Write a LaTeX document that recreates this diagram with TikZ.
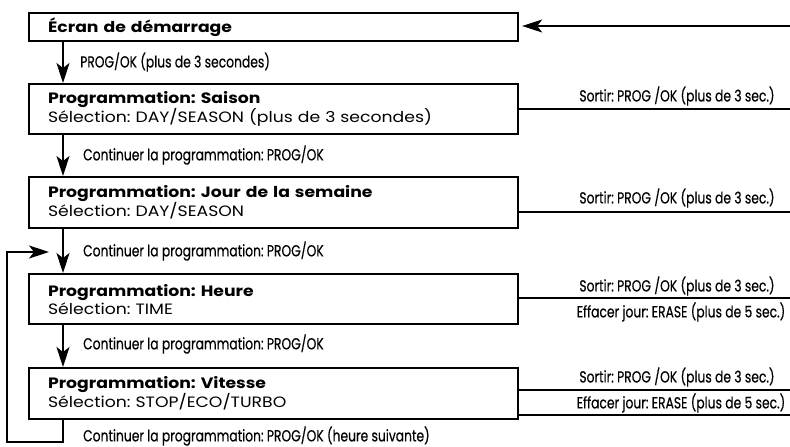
\documentclass[tikz,border=0pt]{standalone}
\usepackage{fontspec}
\usetikzlibrary{arrows.meta}
\newfontfamily\boxfont[FakeStretch=1.15]{Poppins}
\newfontfamily\lblfont[FakeStretch=0.77,FakeBold=0.4]{Poppins}
\frenchspacing
\tikzset{
  box/.style={draw=black, line width=2.2pt, anchor=north west, minimum width=489pt,
    text width=451pt, inner xsep=19pt, inner ysep=0pt, align=left,
    font=\boxfont\fontsize{15}{18}\selectfont\frenchspacing},
  lbl/.style={inner sep=0pt, font=\lblfont\fontsize{16}{18}\selectfont\frenchspacing},
  flow/.style={line width=1.1pt, -{Stealth[length=20pt,width=13pt,inset=5pt]}},
  plain/.style={line width=1.1pt}
}
\begin{document}
\begin{tikzpicture}[x=1pt,y=-1pt]
\useasboundingbox (0,0) rectangle (790,447);
\node[box, minimum height=28pt] (b1) at (28,12) {\textbf{Écran de démarrage}};
\node[box, minimum height=50pt] (b2) at (28,83) {\textbf{Programmation: Saison}\\Sélection: DAY/SEASON (plus de 3 secondes)};
\node[box, minimum height=51pt] (b3) at (28,176) {\textbf{Programmation: Jour de la semaine}\\Sélection: DAY/SEASON};
\node[box, minimum height=50pt] (b4) at (28,273) {\textbf{Programmation: Heure}\\Sélection: TIME};
\node[box, minimum height=51pt] (b5) at (28,367) {\textbf{Programmation: Vitesse}\\Sélection: STOP/ECO/TURBO};
% coordinates
\coordinate (ax) at (63,0);
\coordinate (lx) at (7,0);
\coordinate (in) at (790,26);
\coordinate (r2) at (790,109);
\coordinate (r3) at (790,212);
\coordinate (r4) at (790,298);
\coordinate (r5a) at (790,390);
\coordinate (r5b) at (790,415);
\coordinate (la) at (49,252);
\coordinate (bot) at (0,442);
% entry arrow
\draw[flow, shorten >=3pt] (in) -- (in -| b1.east);
% vertical arrows
\draw[flow] (ax |- b1.south) -- (ax |- b2.north);
\draw[flow] (ax |- b2.south) -- (ax |- b3.north);
\draw[flow] (ax |- b3.south) -- (ax |- b4.north);
\draw[flow] (ax |- b4.south) -- (ax |- b5.north);
% loop
\draw[flow] (ax |- b5.south) -- (ax |- bot) -- (lx |- bot) -- (lx |- la) -- (la);
% exit lines
\draw[plain] (r2 -| b2.east) -- (r2);
\draw[plain] (r3 -| b3.east) -- (r3);
\draw[plain] (r4 -| b4.east) -- (r4);
\draw[plain] (r5a -| b5.east) -- (r5a);
\draw[plain] (r5b -| b5.east) -- (r5b);
% arrow labels
\node[lbl, anchor=west] (t1) at (80,62) {PROG/OK (plus de 3 secondes)};
\node[lbl, anchor=west] (t2) at (83,155) {Continuer la programmation: PROG/OK};
\node[lbl, anchor=west] (t3) at (83,251) {Continuer la programmation: PROG/OK};
\node[lbl, anchor=west] (t4) at (83,344) {Continuer la programmation: PROG/OK};
\node[lbl, anchor=west] (t5) at (83,436) {Continuer la programmation: PROG/OK (heure suivante)};
% exit labels
\node[lbl] (s2) at (677,96) {Sortir: PROG /OK (plus de 3 sec.)};
\node[lbl] (s3) at (677,198) {Sortir: PROG /OK (plus de 3 sec.)};
\node[lbl] (s4) at (677,286) {Sortir: PROG /OK (plus de 3 sec.)};
\node[lbl] (e4) at (681,312) {Effacer jour: ERASE (plus de 5 sec.)};
\node[lbl] (s5) at (677,377) {Sortir: PROG /OK (plus de 3 sec.)};
\node[lbl] (e5) at (681,403) {Effacer jour: ERASE (plus de 5 sec.)};
\end{tikzpicture}
\end{document}
